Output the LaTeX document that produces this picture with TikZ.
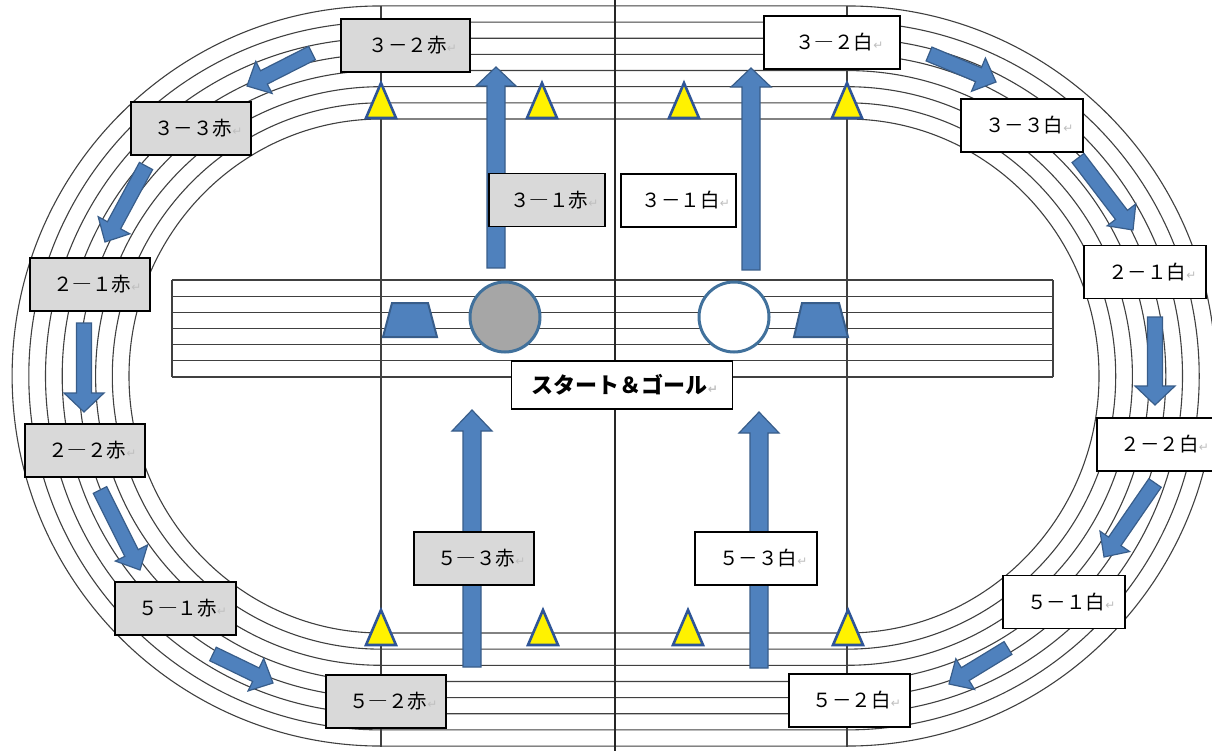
\documentclass[tikz,border=0pt]{standalone}
\usepackage{fontspec}
\usetikzlibrary{calc}
\newfontfamily\jp{Noto Sans CJK JP}
\newfontfamily\dv{DejaVu Sans}
\definecolor{boxgray}{HTML}{D9D9D9}
\definecolor{retgray}{HTML}{BFBFBF}
\definecolor{arrowfill}{HTML}{4F81BD}
\definecolor{arrowdraw}{HTML}{385D8A}
\definecolor{conedraw}{HTML}{2F5597}
\definecolor{circdraw}{HTML}{41719C}
\definecolor{lanegray}{HTML}{404040}
\newcommand\rt{{\dv\fontsize{12}{12}\selectfont\color{retgray}↵}}
\newcommand\blockarrow[5]{%
  \coordinate (hb) at ($(#2)!#5!(#1)$);
  \draw[arrowshape] ($(#1)!#3!90:(#2)$) -- ($(hb)!#3!90:(#2)$) -- ($(hb)!#4!90:(#2)$) -- (#2)
    -- ($(hb)!#4!-90:(#2)$) -- ($(hb)!#3!-90:(#2)$) -- ($(#1)!#3!-90:(#2)$) -- cycle;
}
\newcommand\conemark[2]{%
  \draw[cone] (#1,#2-35) -- (#1+15,#2) -- (#1-15,#2) -- cycle;
}
\tikzset{
  lane/.style={draw=lanegray, line width=1.1pt},
  centerline/.style={draw=black!85, line width=2pt},
  arrowshape/.style={fill=arrowfill, draw=arrowdraw, line width=1.2pt, line join=miter},
  cone/.style={fill=yellow, draw=conedraw, line width=2.6pt},
  trap/.style={fill=arrowfill, draw=arrowdraw, line width=2pt},
  gcirc/.style={fill=black!35, draw=circdraw, line width=3pt},
  wcirc/.style={fill=white, draw=circdraw, line width=3pt},
  tbox/.style={draw=black, line width=1.1pt, inner sep=0pt, minimum width=#1, minimum height=53pt,
    font=\jp\fontsize{19.5}{19.5}\selectfont},
  redbox/.style={tbox=#1, fill=boxgray},
  whitebox/.style={tbox=#1, fill=white},
  startbox/.style={draw=black, line width=1.1pt, fill=white, inner sep=0pt, minimum width=221pt,
    minimum height=48pt, font=\jp\bfseries\fontsize{22}{22}\selectfont}
}
\begin{document}
\begin{tikzpicture}[x=1pt,y=-1pt]
\useasboundingbox (0,0) rectangle (1212,751);
\clip (0,0) rectangle (1212,751);
\fill[white] (0,0) rectangle (1212,751);
% track lanes
\foreach \i in {0,...,7} {
  \pgfmathsetmacro\ry{257+16.15*\i}
  \pgfmathsetmacro\rx{252+16.7*\i}
  \draw[lane] (381,376-\ry) -- (847,376-\ry)
    arc[start angle=-90, end angle=90, x radius=\rx, y radius=\ry]
    -- (381,376+\ry)
    arc[start angle=90, end angle=270, x radius=\rx, y radius=\ry] -- cycle;
}
% infield band
\foreach \j in {0,...,6} {
  \draw[lane] (172,{280+16.17*\j}) -- (1053,{280+16.17*\j});
}
\draw[lane] (172,280) -- (172,377);
\draw[lane] (1053,280) -- (1053,377);
% vertical lines
\draw[lane] (381,6) -- (381,747);
\draw[lane] (847,6) -- (847,747);
\draw[centerline] (615,0) -- (615,751);
% central arrows
\coordinate (c1t) at (496,268); \coordinate (c1h) at (496,67);
\coordinate (c2t) at (751,270); \coordinate (c2h) at (751,68);
\coordinate (c3t) at (472,667); \coordinate (c3h) at (472,410);
\coordinate (c4t) at (759,668); \coordinate (c4h) at (759,412);
\blockarrow{c1t}{c1h}{9pt}{20pt}{19pt}
\blockarrow{c2t}{c2h}{9pt}{20pt}{19pt}
\blockarrow{c3t}{c3h}{9pt}{20pt}{21pt}
\blockarrow{c4t}{c4h}{9pt}{20pt}{21pt}
% curve arrows, red side
\coordinate (a1t) at (312,53); \coordinate (a1h) at (247,86);
\coordinate (a2t) at (146,166); \coordinate (a2h) at (105,242);
\coordinate (a3t) at (84,323); \coordinate (a3h) at (84,412);
\coordinate (a4t) at (100,490); \coordinate (a4h) at (140,570);
\coordinate (a5t) at (213,654); \coordinate (a5h) at (273,683);
\blockarrow{a1t}{a1h}{7.5pt}{18pt}{19pt}
\blockarrow{a2t}{a2h}{7.5pt}{18pt}{19pt}
\blockarrow{a3t}{a3h}{7.5pt}{20pt}{19pt}
\blockarrow{a4t}{a4h}{7.5pt}{18pt}{19pt}
\blockarrow{a5t}{a5h}{7.5pt}{18pt}{19pt}
% curve arrows, white side
\coordinate (b1t) at (929,54); \coordinate (b1h) at (996,82);
\coordinate (b2t) at (1078,158); \coordinate (b2h) at (1133,230);
\coordinate (b3t) at (1155,317); \coordinate (b3h) at (1155,405);
\coordinate (b4t) at (1155,483); \coordinate (b4h) at (1104,557);
\coordinate (b5t) at (1008,648); \coordinate (b5h) at (949,684);
\blockarrow{b1t}{b1h}{7.5pt}{18pt}{19pt}
\blockarrow{b2t}{b2h}{7.5pt}{18pt}{19pt}
\blockarrow{b3t}{b3h}{7.5pt}{20pt}{19pt}
\blockarrow{b4t}{b4h}{7.5pt}{18pt}{19pt}
\blockarrow{b5t}{b5h}{7.5pt}{18pt}{19pt}
% cones
\conemark{381}{118}
\conemark{542}{118}
\conemark{684}{118}
\conemark{847}{118}
\conemark{381}{645}
\conemark{543}{645}
\conemark{688}{645}
\conemark{848}{645}
% trapezoids
\draw[trap] (383,337) -- (392,303) -- (428,303) -- (437,337) -- cycle;
\draw[trap] (794,337) -- (802,303) -- (839,303) -- (848,337) -- cycle;
% circles
\draw[gcirc] (505,317) circle[radius=35];
\draw[wcirc] (734,317) circle[radius=35];
% red boxes
\node[redbox=129pt] (r32) at (405.5,45.5) {\hspace*{15pt}３－２赤\rt};
\node[redbox=120pt] (r33) at (191,128.5) {\hspace*{15pt}３－３赤\rt};
\node[redbox=120pt] (r21) at (90,284.5) {\hspace*{15pt}２―１赤\rt};
\node[redbox=116pt] (r31) at (547,200) {\hspace*{15pt}３―１赤\rt};
\node[redbox=120pt] (r22) at (85,450.5) {\hspace*{15pt}２―２赤\rt};
\node[redbox=121pt] (r51) at (175.5,608.5) {\hspace*{15pt}５―１赤\rt};
\node[redbox=120pt] (r52) at (386,701.5) {\hspace*{15pt}５―２赤\rt};
\node[redbox=120pt] (r53) at (474,558.5) {\hspace*{15pt}５―３赤\rt};
% white boxes
\node[whitebox=136pt] (w32) at (832,42.5) {\hspace*{15pt}３―２白\rt};
\node[whitebox=122pt] (w33) at (1022,125.5) {\hspace*{15pt}３－３白\rt};
\node[whitebox=122pt] (w21) at (1145,272) {\hspace*{15pt}２－１白\rt};
\node[whitebox=115pt] (w31) at (678.5,200.5) {\hspace*{15pt}３－１白\rt};
\node[whitebox=121pt] (w22) at (1157.5,444.5) {\hspace*{15pt}２－２白\rt};
\node[whitebox=122pt] (w51) at (1064,602) {\hspace*{15pt}５－１白\rt};
\node[whitebox=121pt] (w52) at (849.5,700.5) {\hspace*{15pt}５－２白\rt};
\node[whitebox=122pt] (w53) at (756,558.5) {\hspace*{15pt}５－３白\rt};
% start & goal
\node[startbox] (sg) at (622,385) {\hspace*{6pt}スタート＆ゴール\rt};
\end{tikzpicture}
\end{document}
